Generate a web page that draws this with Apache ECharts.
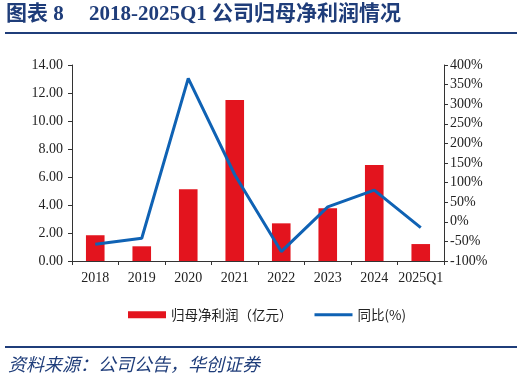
<!DOCTYPE html>
<html><head><meta charset="utf-8">
<script src="https://cdn.jsdelivr.net/npm/echarts@6/dist/echarts.min.js"></script>
<style>html,body{margin:0;padding:0;background:#fff}#c{width:524px;height:382px}</style>
</head><body><div id="c"></div>
<script>
var categories = ['2018','2019','2020','2021','2022','2023','2024','2025Q1'];
var profit = [1.84, 1.05, 5.12, 11.5, 2.69, 3.76, 6.86, 1.21];
var yoy = [-57, -42, 366, 120, -76, 38, 81, -15];
var leftTicks = [0, 14, 2];
var rightTicks = [-100, 400, 50];

var serif = '"Liberation Serif","Times New Roman",serif';
var cjk = '"Noto Sans CJK SC",sans-serif';
var navy = '#1f3d7a';
var chart = echarts.init(document.getElementById('c'));
chart.setOption({
  animation: false,
  backgroundColor: '#fff',
  grid: {left: 72, right: 80, top: 65, bottom: 121},
  legend: {
    left: 123, top: 303, itemWidth: 38, itemHeight: 7, itemGap: 22,
    textStyle: {fontFamily: cjk, fontSize: 13.5, color: '#222'},
    data: [{name: '归母净利润（亿元）', icon: 'rect'}, {name: '同比(%)', icon: 'path://M0,0L38,0L38,3L0,3Z'}]
  },
  xAxis: {
    type: 'category', data: categories,
    axisLine: {lineStyle: {color: '#333'}},
    axisTick: {show: true, lineStyle: {color: '#333'}, length: 4},
    axisLabel: {fontFamily: serif, fontSize: 14, color: '#222', margin: 10, interval: 0}
  },
  yAxis: [{
    type: 'value', min: leftTicks[0], max: leftTicks[1], interval: leftTicks[2],
    axisLine: {show: true, lineStyle: {color: '#333'}},
    axisTick: {show: true, length: 4, lineStyle: {color: '#333'}},
    splitLine: {show: false},
    axisLabel: {fontFamily: serif, fontSize: 14, color: '#222', margin: 9, formatter: function(v){return v.toFixed(2);}}
  }, {
    type: 'value', min: rightTicks[0], max: rightTicks[1], interval: rightTicks[2],
    axisLine: {show: true, lineStyle: {color: '#333'}},
    axisTick: {show: true, length: 4, lineStyle: {color: '#333'}},
    splitLine: {show: false},
    axisLabel: {fontFamily: serif, fontSize: 14, color: '#222', margin: 6, formatter: '{value}%'}
  }],
  series: [{
    name: '归母净利润（亿元）', type: 'bar', data: profit, barWidth: '40%',
    itemStyle: {color: '#e3141e'}
  }, {
    name: '同比(%)', type: 'line', yAxisIndex: 1, data: yoy,
    symbol: 'none', lineStyle: {color: '#0f62b4', width: 3}, itemStyle: {color: '#0f62b4'}
  }],
  graphic: [
    {type: 'text', left: 6, top: 4, style: {text: '图表 8', font: 'bold 21px "Liberation Serif","Noto Sans CJK SC",serif', fill: navy}},
    {type: 'text', left: 89, top: 4, style: {text: '2018-2025Q1 公司归母净利润情况', font: 'bold 21px "Liberation Serif","Noto Sans CJK SC",serif', fill: navy}},
    {type: 'rect', shape: {x: 5, y: 32, width: 512, height: 2}, style: {fill: navy}},
    {type: 'rect', shape: {x: 5, y: 346, width: 512, height: 2}, style: {fill: navy}},
    {type: 'text', left: 8, top: 355, style: {text: '资料来源：公司公告，华创证券', font: 'italic 18px "Noto Sans CJK SC",sans-serif', fill: navy}}
  ]
});
</script></body></html>
